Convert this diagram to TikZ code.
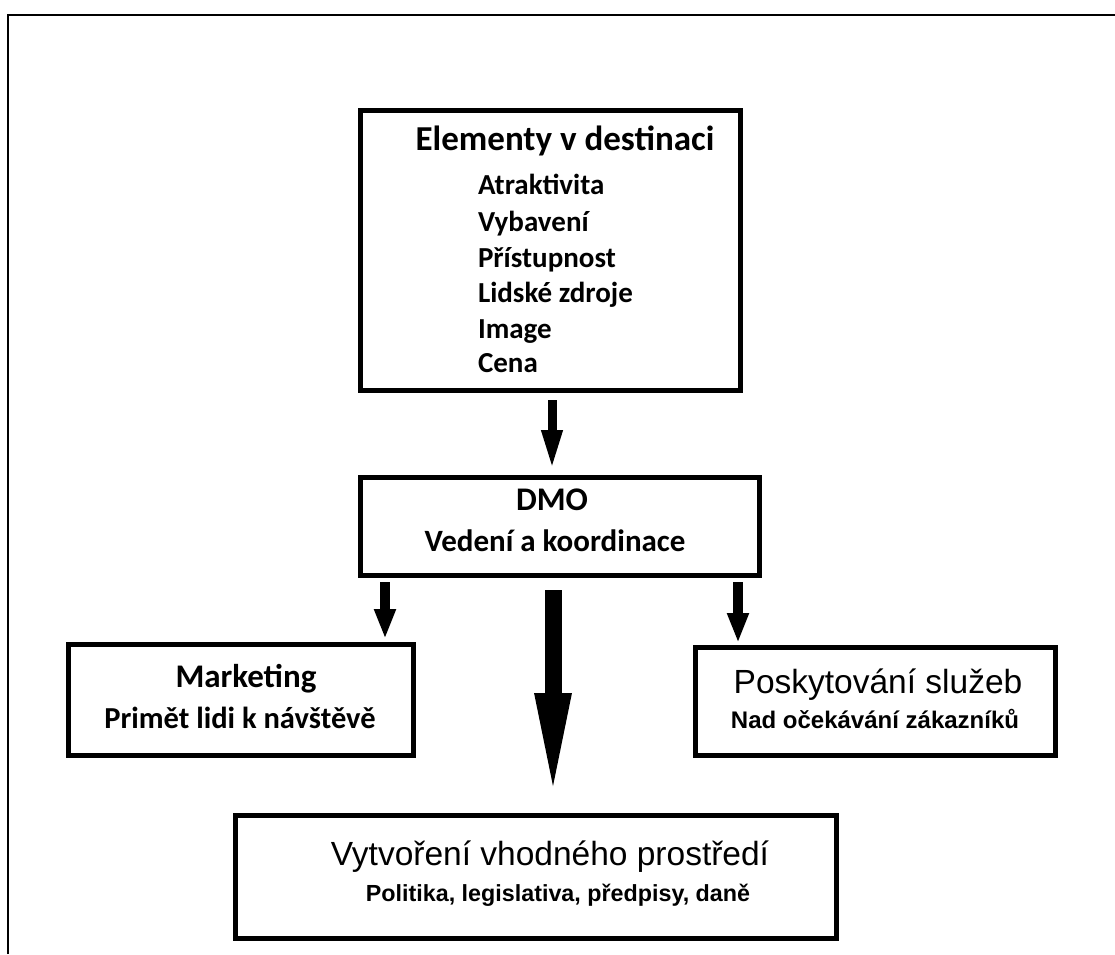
\documentclass[tikz,border=0pt]{standalone}
\usepackage{fontspec}
\setmainfont{Carlito}
\newfontfamily\arialf{Liberation Sans}
\usetikzlibrary{arrows.meta}
\begin{document}
\begin{tikzpicture}[x=1pt,y=-1pt,
  box/.style={draw, line width=5pt, rectangle, inner sep=0pt, outer sep=0pt},
  txt/.style={inner sep=0pt, outer sep=0pt, anchor=base},
  ltxt/.style={inner sep=0pt, outer sep=0pt, anchor=base west},
  item/.style={ltxt, font=\bfseries\fontsize{29}{33}\selectfont},
  smallarr/.style={line width=10pt, -{Triangle[length=30pt, width=20pt]}},
  midarr/.style={line width=9pt, -{Triangle[length=40pt, width=19pt]}},
  bigarr/.style={line width=17pt, -{Triangle[length=109pt, width=32pt]}},
  frame/.style={line width=2.5pt}
]
\useasboundingbox (0,0) rectangle (1115,954);
\draw[frame] (8,954) -- (8,15) -- (1115,15);

% boxes
\node[box, minimum width=380pt, minimum height=280pt] (elem) at (550,250) {};
\node[box, minimum width=399pt, minimum height=98pt] (dmo) at (559.5,526) {};
\node[box, minimum width=345pt, minimum height=111pt] (mkt) at (240.5,699.5) {};
\node[box, minimum width=360pt, minimum height=108pt] (posk) at (875,701) {};
\node[box, minimum width=601pt, minimum height=123pt] (prost) at (535.5,876.5) {};

% texts
\node[txt, font=\bfseries\fontsize{35}{40}\selectfont] (elemT) at (565,150) {Elementy v destinaci};
\node[item] (l1) at (478,194) {Atraktivita};
\node[item] (l2) at (478,231) {Vybavení};
\node[item] (l3) at (478,267) {Přístupnost};
\node[item] (l4) at (478,302) {Lidské zdroje};
\node[item] (l5) at (478,338) {Image};
\node[item] (l6) at (478,372) {Cena};

\node[txt, font=\bfseries\fontsize{33}{38}\selectfont] (dmoT) at (552,510) {DMO};
\node[txt, font=\bfseries\fontsize{31}{36}\selectfont] (dmoS) at (555,551) {Vedení a koordinace};

\node[txt, font=\bfseries\fontsize{33}{38}\selectfont] (mktT) at (246,687) {Marketing};
\node[txt, font=\bfseries\fontsize{30.5}{35}\selectfont] (mktS) at (240,728) {Primět lidi k návštěvě};

\node[txt, font=\arialf\fontsize{33.5}{38}\selectfont] (poskT) at (878,693) {Poskytování služeb};
\node[txt, font=\arialf\bfseries\fontsize{24}{28}\selectfont] (poskS) at (875,728) {Nad očekávání zákazníků};

\node[txt, font=\arialf\fontsize{33.5}{38}\selectfont] (prostT) at (550,865) {Vytvoření vhodného prostředí};
\node[txt, font=\arialf\bfseries\fontsize{23.3}{27}\selectfont] (prostS) at (558,901) {Politika, legislativa, předpisy, daně};

% arrows
\coordinate (c1) at (552,0);
\coordinate (c2) at (385,0);
\coordinate (c3) at (738,0);
\coordinate (c4) at (553,0);
\draw[midarr, shorten <=10pt, shorten >=7pt] (elem.south -| c1) -- (dmo.north -| c1);
\draw[smallarr, shorten <=7pt, shorten >=5pt] (dmo.south -| c2) -- (mkt.north -| c2);
\draw[smallarr, shorten <=7pt, shorten >=4pt] (dmo.south -| c3) -- (posk.north -| c3);
\draw[bigarr, shorten <=15pt, shorten >=13pt] (dmo.south -| c4) -- (prost.north -| c4);
\end{tikzpicture}
\end{document}
